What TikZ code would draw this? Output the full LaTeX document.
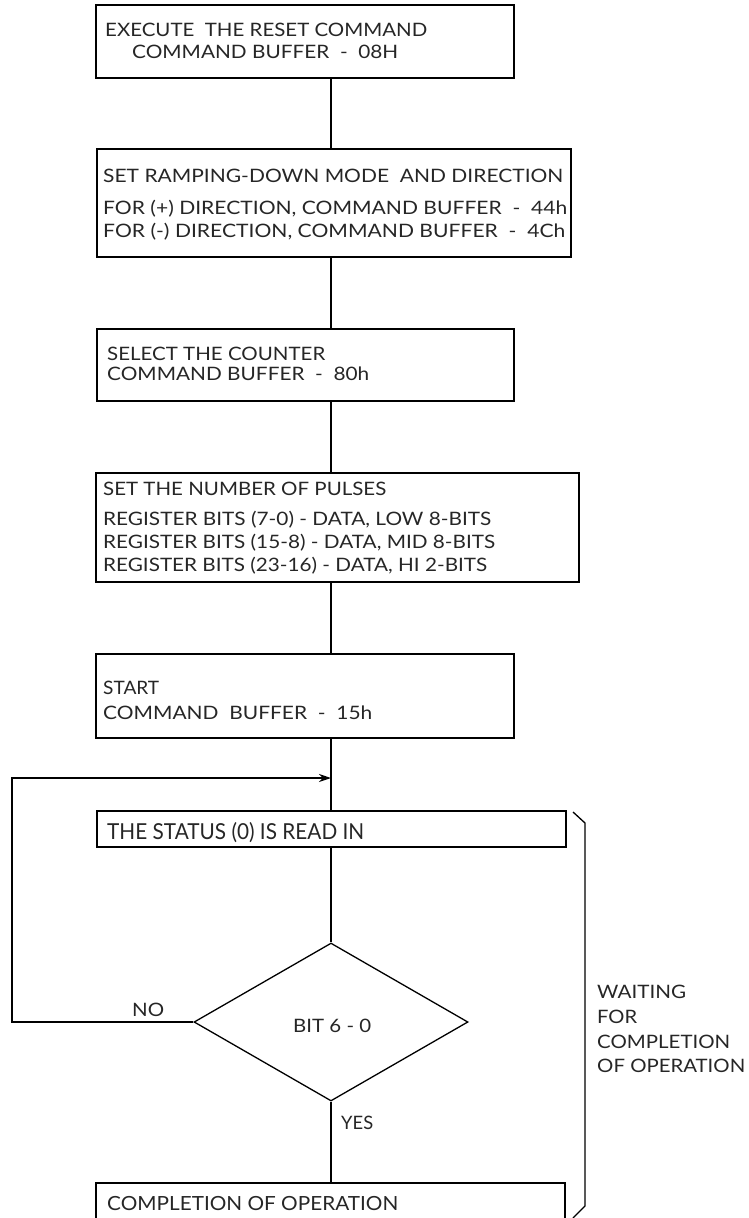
\documentclass[tikz,border=0pt]{standalone}
\usepackage{fontspec}
\usepackage{graphicx}
\setmainfont{Lato}
\newcommand\fitw[2]{\resizebox{#1}{\height}{#2}}
\usetikzlibrary{shapes.geometric,arrows.meta}
\begin{document}
\begin{tikzpicture}[x=1pt,y=-1pt,
  box/.style={draw, line width=1.4pt, inner sep=0pt, rectangle},
  txt/.style={anchor=base west, inner sep=0pt, font=\fontsize{18.5}{20}\selectfont, text=black!85},
  stxt/.style={anchor=base west, inner sep=0pt, font=\fontsize{22}{24}\selectfont, text=black!85},
  ctxt/.style={anchor=base west, inner sep=0pt, font=\fontsize{19.5}{22}\selectfont, text=black!85},
  conn/.style={line width=1.3pt},
  brk/.style={line width=1.3pt}]
\useasboundingbox (0,0) rectangle (749,1218);
% boxes
\node[box, minimum width=418pt, minimum height=73pt] (b1) at (305,41.5) {};
\node[box, minimum width=474pt, minimum height=108pt] (b2) at (334,203) {};
\node[box, minimum width=417pt, minimum height=72pt] (b3) at (305.5,365) {};
\node[box, minimum width=483pt, minimum height=109pt] (b4) at (337.5,527.5) {};
\node[box, minimum width=418pt, minimum height=84pt] (b5) at (305,696) {};
\node[box, minimum width=469pt, minimum height=36pt] (st) at (331.5,829) {};
\node[draw, line width=1.3pt, shape=diamond, inner sep=0pt, minimum width=274pt, minimum height=158pt] (dm) at (331,1022) {};
\node[box, minimum width=469pt, minimum height=57pt] (b6) at (330.5,1211.5) {};
% texts
\node[txt] (t1a) at (105,37) {\fitw{322pt}{EXECUTE\ \ THE RESET COMMAND}};
\node[txt] (t1b) at (132,58) {\fitw{266pt}{COMMAND BUFFER\ \ -\ \ 08H}};
\node[txt] (t2a) at (103,182) {\fitw{460pt}{SET RAMPING-DOWN MODE\ \ AND DIRECTION}};
\node[txt] (t2b) at (103,214) {\fitw{464pt}{FOR (+) DIRECTION, COMMAND BUFFER\ \ -\ \ 44h}};
\node[txt] (t2c) at (103,237) {\fitw{462pt}{FOR (-) DIRECTION, COMMAND BUFFER\ \ -\ \ 4Ch}};
\node[txt] (t3a) at (107,360) {\fitw{218pt}{SELECT THE COUNTER}};
\node[txt] (t3b) at (107,380) {\fitw{262pt}{COMMAND BUFFER\ \ -\ \ 80h}};
\node[txt] (t4a) at (103,495) {\fitw{283pt}{SET THE NUMBER OF PULSES}};
\node[txt] (t4b) at (103,525) {\fitw{388pt}{REGISTER BITS (7-0) - DATA, LOW 8-BITS}};
\node[txt] (t4c) at (103,548) {\fitw{392pt}{REGISTER BITS (15-8) - DATA, MID 8-BITS}};
\node[txt] (t4d) at (103,571) {\fitw{384pt}{REGISTER BITS (23-16) - DATA, HI 2-BITS}};
\node[txt] (t5a) at (103,694) {\fitw{56pt}{START}};
\node[txt] (t5b) at (103,719) {\fitw{269pt}{COMMAND\ \ BUFFER\ \ -\ \ 15h}};
\node[stxt] (tst) at (107,839) {\fitw{257pt}{THE STATUS (0) IS READ IN}};
\node[txt] (tbit) at (293,1032) {\fitw{78pt}{BIT 6 - 0}};
\node[txt] (tno) at (132,1016) {\fitw{32pt}{NO}};
\node[txt] (tyes) at (341,1129) {\fitw{32pt}{YES}};
\node[ctxt] (t6) at (107,1210) {\fitw{291pt}{COMPLETION OF OPERATION}};
\node[txt] (w1) at (597,998) {\fitw{89pt}{WAITING}};
\node[txt] (w2) at (597,1023) {\fitw{40pt}{FOR}};
\node[txt] (w3) at (597,1048) {\fitw{133pt}{COMPLETION}};
\node[txt] (w4) at (597,1072) {\fitw{148pt}{OF OPERATION}};
% connectors
\coordinate (loopc) at (12,778);
\coordinate (join) at (331,778);
\draw[conn] (b1.south -| dm.north) -- (b2.north -| dm.north);
\draw[conn] (b2.south -| dm.north) -- (b3.north -| dm.north);
\draw[conn] (b3.south -| dm.north) -- (b4.north -| dm.north);
\draw[conn] (b4.south -| dm.north) -- (b5.north -| dm.north);
\draw[conn] (b5.south -| dm.north) -- (st.north -| dm.north);
\draw[conn] (st.south -| dm.north) -- (dm.north);
\draw[conn] (dm.south) -- (b6.north -| dm.south);
\draw[conn, -{Stealth[length=12pt,width=8pt]}] (dm.west) -| (loopc) -- (join);
% bracket
\coordinate (k1) at (573,812);
\coordinate (k2) at (585,823);
\coordinate (k3) at (585,1206);
\coordinate (k4) at (573,1218);
\draw[brk] (k1) -- (k2) -- (k3) -- (k4);
\end{tikzpicture}
\end{document}
